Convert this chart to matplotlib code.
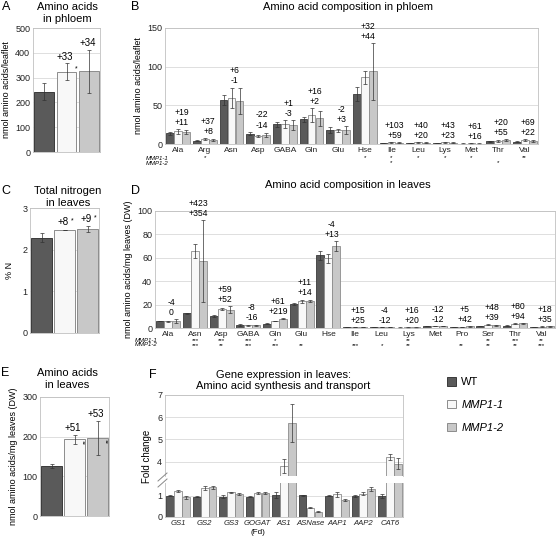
import matplotlib
matplotlib.use('Agg')
import matplotlib.pyplot as plt
from matplotlib.patches import Patch
from matplotlib.lines import Line2D
import numpy as np

plt.rcParams['font.family'] = ['Liberation Sans', 'DejaVu Sans']

# ---------------- data ----------------
series = ['WT', 'MMP1-1', 'MMP1-2']

A_means = [243, 324, 325]
A_errs = [35, 33, 88]
A_changes = ['', '+33', '+34']
A_sig = ['', '*', '']

B_cats = ['Ala', 'Arg', 'Asn', 'Asp', 'GABA', 'Gln', 'Glu', 'Hse', 'Ile', 'Leu', 'Lys', 'Met', 'Thr', 'Val']
B_wt = [14, 4.5, 57, 13.5, 25.5, 32, 18, 65, 1.0, 1.5, 1.4, 0.5, 3.5, 3.0]
B_wt_err = [2, 0.8, 6, 2.5, 3, 3.5, 3.5, 9, 0.3, 0.3, 0.3, 0.2, 0.8, 0.6]
B_m1 = [16.5, 6.2, 60, 10.5, 26, 37, 17.5, 86, 2.0, 2.1, 2.0, 0.8, 4.2, 5.1]
B_m1_err = [3, 1, 13, 1, 5, 9, 2.5, 9, 0.6, 0.5, 0.5, 0.3, 1.2, 1.2]
B_m2 = [15.5, 4.9, 56, 11.6, 25, 33, 18.5, 94, 1.6, 1.8, 1.7, 0.6, 5.4, 3.7]
B_m2_err = [3, 1.5, 17, 3, 6.5, 10, 5, 37, 0.5, 0.5, 0.5, 0.3, 1.5, 1.5]
B_c1 = ['+19', '+37', '+6', '-22', '+1', '+16', '-2', '+32', '+103', '+40', '+43', '+61', '+20', '+69']
B_c2 = ['+11', '+8', '-1', '-14', '-3', '+2', '+3', '+44', '+59', '+20', '+23', '+16', '+55', '+22']
B_sig1 = ['', '*', '', '', '', '', '', '*', '*', '*', '*', '*', '', '**']
B_sig2 = ['', '', '', '', '', '', '', '', '*', '', '', '', '*', '']

C_means = [2.29, 2.47, 2.49]
C_errs = [0.1, 0.01, 0.07]
C_changes = ['', '+8', '+9']
C_sig = ['', '*', '*']

D_cats = ['Ala', 'Asn', 'Asp', 'GABA', 'Gln', 'Glu', 'Hse', 'Ile', 'Leu', 'Lys', 'Met', 'Pro', 'Ser', 'Thr', 'Val']
D_wt = [6.0, 12.7, 10.3, 2.6, 3.7, 20.5, 62, 0.8, 0.6, 0.4, 1.7, 1.0, 1.8, 2.0, 1.0]
D_wt_err = [0.3, 0.5, 1.2, 0.8, 0.4, 0.7, 3.5, 0.1, 0.1, 0.1, 0.2, 0.1, 0.2, 0.2, 0.1]
D_m1 = [5.8, 66, 16.4, 2.4, 6.0, 22.8, 59.5, 0.9, 0.58, 0.46, 1.5, 1.05, 2.7, 3.6, 1.2]
D_m1_err = [0.3, 6, 0.8, 0.3, 0.4, 1.2, 4, 0.1, 0.1, 0.1, 0.2, 0.15, 0.3, 0.3, 0.1]
D_m2 = [6.0, 57.5, 15.7, 2.2, 8.1, 23.3, 70, 1.0, 0.53, 0.48, 1.5, 1.42, 2.5, 3.9, 1.35]
D_m2_err = [1.5, 35, 3, 0.3, 0.6, 1.0, 4, 0.15, 0.1, 0.1, 0.2, 0.2, 0.4, 0.4, 0.2]
D_c1 = ['-4', '+423', '+59', '-8', '+61', '+11', '-4', '+15', '-4', '+16', '-12', '+5', '+48', '+80', '+18']
D_c2 = ['0', '+354', '+52', '-16', '+219', '+14', '+13', '+25', '-12', '+20', '-12', '+42', '+39', '+94', '+35']
D_sig1 = ['', '***', '***', '***', '*', '', '', '', '', '**', '', '', '**', '***', '**']
D_sig2 = ['', '***', '**', '***', '***', '**', '', '***', '*', '**', '', '**', '**', '**', '***']

E_means = [127, 193, 197]
E_errs = [5, 12, 43]
E_changes = ['', '+51', '+53']
E_sig = ['', '**', '**']

F_genes = ['GS1', 'GS2', 'GS3', 'GOGAT', 'AS1', 'ASNase', 'AAP1', 'AAP2', 'CAT6']
F_wt = [1.0, 0.96, 0.96, 0.96, 1.03, 1.02, 1.01, 1.0, 1.0]
F_wt_err = [0.03, 0.03, 0.07, 0.03, 0.13, 0.03, 0.02, 0.05, 0.1]
F_m1 = [1.22, 1.37, 1.17, 1.12, 3.8, 0.44, 1.06, 1.1, 4.2]
F_m1_err = [0.06, 0.08, 0.03, 0.04, 0.32, 0.01, 0.12, 0.08, 0.15]
F_m2 = [0.93, 1.39, 1.07, 1.12, 5.75, 0.25, 0.8, 1.3, 3.9]
F_m2_err = [0.06, 0.06, 0.04, 0.05, 0.85, 0.03, 0.06, 0.09, 0.25]

# ---------------- style ----------------
colors = ['#5a5a5a', '#f8f8f8', '#c8c8c8']
edges = ['#3a3a3a', '#8c8c8c', '#8c8c8c']
ERR = dict(ecolor='#333333', elinewidth=0.5, capsize=1.3, capthick=0.5)
GRID = '#d9d9d9'
SPINE = '#c0c0c0'
CAT_FS = 6.0

W, H = 558, 538
fig = plt.figure(figsize=(W / 100, H / 100), dpi=100)


def add_ax(x0, y0, x1, y1):
    return fig.add_axes([x0 / W, 1 - y1 / H, (x1 - x0) / W, (y1 - y0) / H])


def style(ax, ylim, ticks):
    ax.set_ylim(*ylim)
    ax.set_yticks(ticks)
    ax.yaxis.grid(True, color=GRID, lw=0.6)
    ax.set_axisbelow(True)
    for s in ax.spines.values():
        s.set_color(SPINE)
        s.set_linewidth(0.6)
    ax.tick_params(length=0, labelsize=6.5, pad=2, colors='#222222')


def figtext(x, y, s, **kw):
    kw.setdefault('ha', 'center')
    kw.setdefault('va', 'center')
    fig.text(x / W, 1 - y / H, s, **kw)


def simple_panel(ax, means, errs):
    x = np.arange(3)
    for j in range(3):
        ax.bar(x[j], means[j], 0.87, color=colors[j], edgecolor=edges[j], lw=0.7,
               yerr=errs[j], error_kw=ERR)
    ax.set_xlim(-0.5, 2.5)
    ax.set_xticks([])


def grouped(ax, cats, data, errs):
    x = np.arange(len(cats))
    for j in range(3):
        ax.bar(x + (j - 1) * 0.3, data[j], 0.29, color=colors[j], edgecolor=edges[j], lw=0.6,
               yerr=errs[j], error_kw=ERR)
    ax.set_xlim(-0.5, len(cats) - 0.5)
    ax.set_xticks(x)
    return x


def change_labels(ax, x, tops, c1, c2):
    for xi, t, a, b in zip(x, tops, c1, c2):
        ax.annotate(a + '\n' + b, (xi + 0.12, t), xytext=(0, 1.5), textcoords='offset points',
                    ha='center', va='bottom', fontsize=6.2, linespacing=1.15)


def sig_rows(ax, x, s1, s2, y1):
    tr = ax.get_xaxis_transform()
    for xi, a, b in zip(x, s1, s2):
        if a or b:
            ax.text(xi, y1, (a if a else ' ') + '\n' + (b if b else ' '), transform=tr,
                    ha='center', va='top', fontsize=4.5, linespacing=0.95)


# ---------------- panel A ----------------
axA = add_ax(33, 28, 100, 152)
style(axA, (0, 500), np.arange(0, 501, 100))
simple_panel(axA, A_means, A_errs)
for j in range(3):
    axA.annotate(A_changes[j], (j, A_means[j] + A_errs[j]), xytext=(-1, 5),
                 textcoords='offset points', ha='center', va='center', fontsize=7)
    axA.annotate(A_sig[j], (j + 0.44, A_means[j]), xytext=(0, 2),
                 textcoords='offset points', ha='center', va='center', fontsize=5)
axA.set_ylabel('nmol amino acids/leaflet', fontsize=6.5, labelpad=3)
figtext(67, 7, 'Amino acids', fontsize=8)
figtext(67, 19, 'in phloem', fontsize=8)
figtext(6, 7, 'A', fontsize=9)

# ---------------- panel B ----------------
axB = add_ax(165, 28, 538, 144)
style(axB, (0, 150), [0, 50, 100, 150])
xB = grouped(axB, B_cats, [B_wt, B_m1, B_m2], [B_wt_err, B_m1_err, B_m2_err])
axB.set_xticklabels(B_cats, fontsize=CAT_FS)
topsB = np.max([np.add(B_wt, B_wt_err), np.add(B_m1, B_m1_err), np.add(B_m2, B_m2_err)], axis=0)
change_labels(axB, xB, topsB, B_c1, B_c2)
sig_rows(axB, xB, B_sig1, B_sig2, -0.095)
axB.set_ylabel('nmol amino acids/leaflet', fontsize=6.5, labelpad=3)
figtext(146, 155.5, 'MMP1-1\nMMP1-2', fontsize=4.3, style='italic', ha='left', va='top',
        linespacing=1.1)
figtext(348, 7, 'Amino acid composition in phloem', fontsize=8)
figtext(135, 7, 'B', fontsize=9)

# ---------------- panel C ----------------
axC = add_ax(30, 208, 99, 333)
style(axC, (0, 3), [0, 1, 2, 3])
simple_panel(axC, C_means, C_errs)
for j in range(3):
    axC.annotate(C_changes[j], (j, C_means[j] + C_errs[j]), xytext=(-1, 5.5),
                 textcoords='offset points', ha='center', va='center', fontsize=7)
    axC.annotate(C_sig[j], (j + 0.35, C_means[j] + C_errs[j]), xytext=(0, 6),
                 textcoords='offset points', ha='center', va='center', fontsize=5)
axC.set_ylabel('% N', fontsize=6.5, labelpad=6)
figtext(68, 191, 'Total nitrogen', fontsize=8)
figtext(68, 203, 'in leaves', fontsize=8)
figtext(6, 191, 'C', fontsize=9)

# ---------------- panel D ----------------
axD = add_ax(155, 211, 555, 328)
style(axD, (0, 100), np.arange(0, 101, 20))
xD = grouped(axD, D_cats, [D_wt, D_m1, D_m2], [D_wt_err, D_m1_err, D_m2_err])
axD.set_xticklabels(D_cats, fontsize=CAT_FS)
topsD = np.max([np.add(D_wt, D_wt_err), np.add(D_m1, D_m1_err), np.add(D_m2, D_m2_err)], axis=0)
change_labels(axD, xD, topsD, D_c1, D_c2)
sig_rows(axD, xD, D_sig1, D_sig2, -0.085)
axD.set_ylabel('nmol amino acids/mg leaves (DW)', fontsize=6.5, labelpad=3)
figtext(135, 337.5, 'MMP1-1\nMMP1-2', fontsize=4.3, style='italic', ha='left', va='top',
        linespacing=0.95)
figtext(348, 185, 'Amino acid composition in leaves', fontsize=8)
figtext(135, 191, 'D', fontsize=9)

# ---------------- panel E ----------------
axE = add_ax(40, 397, 109, 516)
style(axE, (0, 300), [0, 100, 200, 300])
simple_panel(axE, E_means, E_errs)
for j in range(3):
    axE.annotate(E_changes[j], (j, E_means[j] + E_errs[j]), xytext=(-1, 5),
                 textcoords='offset points', ha='center', va='center', fontsize=7)
    axE.annotate(E_sig[j], (j + 0.47, E_means[j]), xytext=(0, 0),
                 textcoords='offset points', ha='center', va='top', fontsize=4.5,
                 rotation=90)
axE.set_ylabel('nmol amino acids/mg leaves (DW)', fontsize=6.5, labelpad=3)
figtext(67, 373, 'Amino acids', fontsize=8)
figtext(67, 385, 'in leaves', fontsize=8)
figtext(5, 373, 'E', fontsize=9)

# ---------------- panel F ----------------
axFu = add_ax(165, 395, 403, 476)
axFl = add_ax(165, 483, 403, 517)
for ax in (axFu, axFl):
    grouped(ax, F_genes, [F_wt, F_m1, F_m2], [F_wt_err, F_m1_err, F_m2_err])
style(axFu, (3.35, 7), [4, 5, 6, 7])
style(axFl, (0, 1.6), [0, 1])
axFu.spines['bottom'].set_visible(False)
axFl.spines['top'].set_visible(False)
axFu.set_xticklabels([])
axFl.set_xticklabels(F_genes, fontsize=5.6, style='italic')
axFl.tick_params(axis='x', pad=2.5)
figtext(165 + 3.5 * 26.44, 533, '(Fd)', fontsize=5.8)
for dy in (0, 6):
    fig.add_artist(Line2D([158 / W, 167 / W], [1 - (484 - dy + 3) / H, 1 - (476 - dy + 3) / H],
                          color='#888888', lw=0.7))
figtext(147, 456, 'Fold change', fontsize=7, rotation=90)
figtext(283, 375, 'Gene expression in leaves:', fontsize=8)
figtext(283, 386, 'Amino acid synthesis and transport', fontsize=8)
figtext(153, 375, 'F', fontsize=9)

# ---------------- legend ----------------
handles = [Patch(facecolor=colors[j], edgecolor=edges[j], lw=0.7) for j in range(3)]
leg = fig.legend(handles, series, loc='upper left', bbox_to_anchor=(447 / W, 1 - 377 / H),
                 frameon=False, fontsize=8, handlelength=0.8, handleheight=0.8,
                 handletextpad=0.5, labelspacing=1.15, borderaxespad=0, borderpad=0)
for t in leg.get_texts()[1:]:
    t.set_style('italic')

fig.savefig('out.png', dpi=100)
